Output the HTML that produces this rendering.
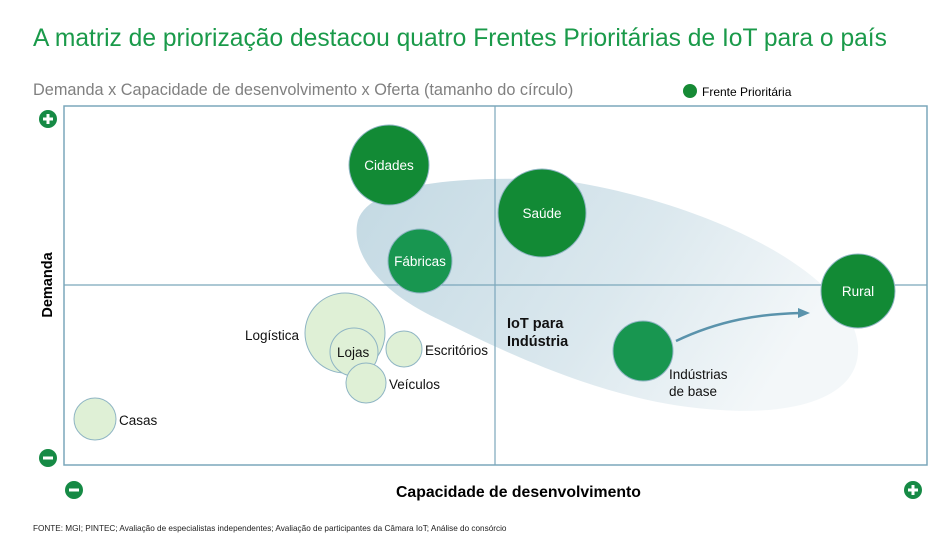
<!DOCTYPE html>
<html><head><meta charset="utf-8"><style>
body{margin:0;background:#fff;font-family:"Liberation Sans",sans-serif}
</style></head><body>
<svg width="943" height="545" viewBox="0 0 943 545" xmlns="http://www.w3.org/2000/svg" font-family="Liberation Sans, sans-serif">
<defs>
<linearGradient id="g" x1="0" y1="0" x2="1" y2="0.3">
<stop offset="0" stop-color="#c3d9e3"/><stop offset="0.6" stop-color="#dbe8ee"/><stop offset="1" stop-color="#f3f7f9"/>
</linearGradient>
</defs>
<text x="33" y="46" font-size="24.6" fill="#1a9a4a">A matriz de priorização destacou quatro Frentes Prioritárias de IoT para o país</text>
<text x="33" y="95" font-size="16.3" fill="#808080">Demanda x Capacidade de desenvolvimento x Oferta (tamanho do círculo)</text>
<circle cx="690" cy="91" r="7" fill="#168a35"/>
<text x="702" y="96" font-size="12" fill="#000">Frente Prioritária</text>
<path d="M358,220 C370,185 450,175 560,180 C700,200 850,270 858,345 C862,400 790,415 720,410 C620,405 520,360 440,320 C375,290 350,250 358,220 Z" fill="url(#g)"/>
<rect x="64" y="106" width="863" height="359" fill="none" stroke="#7ba7bb" stroke-width="1.5"/>
<line x1="495" y1="106" x2="495" y2="465" stroke="#7ba7bb" stroke-width="1.2"/>
<line x1="64" y1="285" x2="927" y2="285" stroke="#7ba7bb" stroke-width="1.2"/>
<g stroke="#8fb5c4" stroke-width="1" fill="#dff0d6">
<circle cx="345" cy="333" r="40"/>
<circle cx="354" cy="352" r="24"/>
<circle cx="404" cy="349" r="18"/>
<circle cx="366" cy="383" r="20"/>
<circle cx="95" cy="419" r="21"/>
</g>
<g stroke="#8fb5c4" stroke-width="1">
<circle cx="389" cy="165" r="40" fill="#128a35"/>
<circle cx="542" cy="213" r="44" fill="#128a35"/>
<circle cx="420" cy="261" r="32" fill="#189650"/>
<circle cx="858" cy="291" r="37" fill="#128a35"/>
<circle cx="643" cy="351" r="30" fill="#189650"/>
</g>
<path d="M676,341 C720,320 760,314 800,313" fill="none" stroke="#5a93ac" stroke-width="2.5"/>
<polygon points="810,313 798,308 798,318" fill="#5a93ac"/>
<g font-size="13.5" fill="#fff" text-anchor="middle">
<text x="389" y="170">Cidades</text>
<text x="542" y="218">Saúde</text>
<text x="420" y="266">Fábricas</text>
<text x="858" y="296">Rural</text>
</g>
<g font-size="13.5" fill="#111">
<text x="245" y="340">Logística</text>
<text x="337" y="357">Lojas</text>
<text x="425" y="355">Escritórios</text>
<text x="389" y="389">Veículos</text>
<text x="119" y="425">Casas</text>
<text x="669" y="379">Indústrias</text>
<text x="669" y="396">de base</text>
</g>
<text x="507" y="328" font-size="14.5" font-weight="bold" fill="#111">IoT para</text>
<text x="507" y="346" font-size="14.5" font-weight="bold" fill="#111">Indústria</text>
<text x="396" y="497" font-size="15.8" font-weight="bold" fill="#000">Capacidade de desenvolvimento</text>
<text transform="translate(52,285) rotate(-90)" font-size="14.5" font-weight="bold" fill="#000" text-anchor="middle">Demanda</text>
<g fill="#168a45">
<circle cx="48" cy="119" r="9"/><circle cx="48" cy="458" r="9"/>
<circle cx="74" cy="490" r="9"/><circle cx="913" cy="490" r="9"/>
</g>
<g stroke="#fff" stroke-width="3">
<line x1="43" y1="119" x2="53" y2="119"/><line x1="48" y1="114" x2="48" y2="124"/>
<line x1="43" y1="458" x2="53" y2="458"/>
<line x1="69" y1="490" x2="79" y2="490"/>
<line x1="908" y1="490" x2="918" y2="490"/><line x1="913" y1="485" x2="913" y2="495"/>
</g>
<text x="33" y="531" font-size="8.2" fill="#222">FONTE: MGI; PINTEC; Avaliação de especialistas independentes; Avaliação de participantes da Câmara IoT; Análise do consórcio</text>
</svg>
</body></html>
